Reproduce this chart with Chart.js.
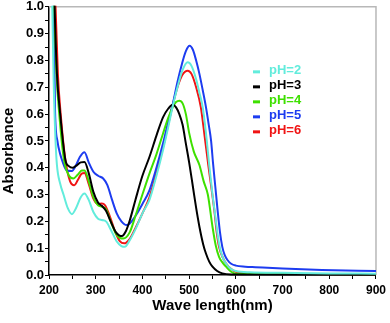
<!DOCTYPE html>
<html>
<head>
<meta charset="utf-8">
<script src="https://cdn.jsdelivr.net/npm/chart.js@4.4.1/dist/chart.umd.min.js"></script>
<style>
  html, body { margin: 0; padding: 0; background: #fff; }
  #wrap { width: 390px; height: 323px; position: relative; }
</style>
</head>
<body>
<div id="wrap"><canvas id="chart"></canvas></div>
<script>
// dados (comprimento de onda em nm, absorbancia)
const seriesLabels = ['pH=2', 'pH=3', 'pH=4', 'pH=5', 'pH=6'];
const seriesColors = ['#62ecdc', '#000000', '#3ee000', '#1d3cf0', '#f01414'];

const ph2Nm  = [203, 207, 210, 214, 217, 224, 231, 240, 249, 258, 268, 276, 285, 295, 305, 313, 322, 332, 345, 355, 362, 373, 385, 400, 415, 430, 444, 455, 465, 475, 485, 497, 505, 515, 522, 529, 536, 543, 550, 556, 561, 566, 572, 580, 590, 600, 630, 700, 800, 900];
const ph2Abs = [1.5, 1.0, 0.72, 0.5, 0.41, 0.34, 0.3, 0.25, 0.227, 0.25, 0.29, 0.304, 0.28, 0.235, 0.21, 0.205, 0.2, 0.17, 0.125, 0.108, 0.105, 0.13, 0.17, 0.23, 0.28, 0.37, 0.465, 0.55, 0.63, 0.7, 0.76, 0.793, 0.78, 0.73, 0.68, 0.626, 0.53, 0.41, 0.3, 0.22, 0.15, 0.1, 0.065, 0.04, 0.022, 0.015, 0.01, 0.008, 0.006, 0.005];

const ph3Nm  = [205, 212, 217, 224, 235, 243, 251, 260, 268, 276, 285, 295, 305, 313, 322, 332, 343, 350, 356, 365, 373, 385, 400, 415, 430, 444, 455, 465, 472, 479, 486, 493, 500, 508, 515, 522, 530, 536, 543, 550, 560, 571, 590, 900];
const ph3Abs = [1.5, 1.0, 0.75, 0.6, 0.43, 0.405, 0.4, 0.41, 0.42, 0.421, 0.38, 0.31, 0.27, 0.258, 0.24, 0.2, 0.16, 0.148, 0.145, 0.165, 0.204, 0.28, 0.37, 0.44, 0.52, 0.588, 0.62, 0.635, 0.625, 0.6, 0.56, 0.49, 0.42, 0.33, 0.25, 0.18, 0.115, 0.08, 0.05, 0.031, 0.015, 0.006, 0.002, 0.001];

const ph4Nm  = [204, 211, 216, 222, 232, 243, 252, 262, 270, 276, 285, 295, 305, 313, 322, 332, 343, 352, 359, 373, 385, 400, 415, 430, 444, 455, 465, 472, 479, 486, 493, 500, 510, 522, 531, 540, 550, 557, 564, 572, 579, 590, 600, 900];
const ph4Abs = [1.5, 1.0, 0.75, 0.6, 0.43, 0.37, 0.36, 0.375, 0.39, 0.39, 0.35, 0.29, 0.26, 0.255, 0.245, 0.2, 0.155, 0.138, 0.136, 0.16, 0.22, 0.3, 0.378, 0.45, 0.527, 0.585, 0.626, 0.645, 0.65, 0.64, 0.6, 0.53, 0.46, 0.41, 0.35, 0.3, 0.18, 0.11, 0.068, 0.045, 0.031, 0.012, 0.005, 0.003];

const ph5Nm  = [203, 210, 213, 218, 224, 228, 238, 249, 258, 266, 276, 285, 295, 305, 316, 325, 335, 345, 355, 366, 373, 385, 400, 415, 430, 444, 455, 465, 475, 485, 493, 501, 508, 515, 522, 529, 536, 542, 547, 551, 556, 561, 566, 571, 576, 582, 590, 600, 620, 642, 700, 784, 900];
const ph5Abs = [1.5, 1.0, 0.61, 0.5, 0.45, 0.428, 0.39, 0.388, 0.41, 0.44, 0.458, 0.42, 0.385, 0.37, 0.36, 0.335, 0.28, 0.23, 0.2, 0.186, 0.192, 0.22, 0.265, 0.316, 0.4, 0.49, 0.57, 0.638, 0.72, 0.79, 0.835, 0.855, 0.84, 0.8, 0.75, 0.69, 0.626, 0.56, 0.5, 0.42, 0.33, 0.24, 0.16, 0.105, 0.075, 0.056, 0.042, 0.035, 0.031, 0.029, 0.024, 0.019, 0.015];

const ph6Nm  = [206, 214, 219, 225, 235, 245, 254, 262, 270, 276, 285, 295, 305, 313, 320, 330, 342, 352, 361, 373, 385, 400, 415, 430, 444, 455, 465, 475, 485, 497, 505, 515, 525, 533, 541, 548, 554, 559, 564, 572, 579, 590, 600, 630, 900];
const ph6Abs = [1.5, 1.0, 0.75, 0.6, 0.43, 0.35, 0.335, 0.355, 0.378, 0.38, 0.34, 0.285, 0.265, 0.267, 0.26, 0.22, 0.16, 0.125, 0.118, 0.135, 0.175, 0.23, 0.29, 0.38, 0.475, 0.56, 0.635, 0.7, 0.745, 0.762, 0.75, 0.7, 0.626, 0.52, 0.41, 0.32, 0.24, 0.16, 0.105, 0.065, 0.043, 0.022, 0.012, 0.005, 0.003];

const xTicksMajor = [200, 300, 400, 500, 600, 700, 800, 900];
const yTicksMajor = [0.0, 0.1, 0.2, 0.3, 0.4, 0.5, 0.6, 0.7, 0.8, 0.9, 1.0];

const allNm = [ph2Nm, ph3Nm, ph4Nm, ph5Nm, ph6Nm];
const allAbs = [ph2Abs, ph3Abs, ph4Abs, ph5Abs, ph6Abs];

const FONT = "'Liberation Sans', Arial, sans-serif";

// junta x e y em pontos
function toPoints(xs, ys) {
  return xs.map((x, i) => ({ x: x, y: ys[i] }));
}

const datasets = seriesLabels.map((label, i) => ({
  label: label,
  data: toPoints(allNm[i], allAbs[i]),
  borderColor: seriesColors[i],
  backgroundColor: seriesColors[i],
  borderWidth: 2,
  pointRadius: 0,
  fill: false,
  cubicInterpolationMode: 'monotone',
  clip: 1
}));

// moldura cinza, titulos dos eixos e legenda dentro do grafico
const extrasPlugin = {
  id: 'extras',
  beforeDatasetsDraw(chart) {
    const { ctx, chartArea } = chart;
    ctx.save();
    ctx.strokeStyle = '#b8b8b8';
    ctx.lineWidth = 1.5;
    ctx.beginPath();
    ctx.moveTo(chartArea.left, chartArea.top);
    ctx.lineTo(chartArea.right, chartArea.top);
    ctx.lineTo(chartArea.right, chartArea.bottom);
    ctx.stroke();
    ctx.restore();
  },
  afterDraw(chart) {
    const { ctx, chartArea } = chart;
    ctx.save();
    ctx.fillStyle = '#000';
    ctx.font = 'bold 15px ' + FONT;
    ctx.textAlign = 'center';
    ctx.textBaseline = 'middle';
    ctx.fillText('Wave length(nm)', (chartArea.left + chartArea.right) / 2, chartArea.bottom + 31);

    ctx.translate(9, (chartArea.top + chartArea.bottom) / 2 + 10);
    ctx.rotate(-Math.PI / 2);
    ctx.fillText('Absorbance', 0, 0);
    ctx.restore();

    // legenda
    ctx.save();
    ctx.font = 'bold 13px ' + FONT;
    ctx.textAlign = 'left';
    ctx.textBaseline = 'middle';
    chart.data.datasets.forEach((ds, i) => {
      const y = chartArea.top + 64 + i * 15;
      const x = chartArea.left + 204;
      ctx.strokeStyle = ds.borderColor;
      ctx.lineWidth = 3;
      ctx.beginPath();
      ctx.moveTo(x, y + 1);
      ctx.lineTo(x + 7, y + 1);
      ctx.stroke();
      ctx.fillStyle = ds.borderColor;
      ctx.fillText(ds.label, x + 16, y);
    });
    ctx.restore();
  }
};

new Chart(document.getElementById('chart'), {
  type: 'line',
  data: { datasets: datasets },
  options: {
    responsive: true,
    maintainAspectRatio: false,
    animation: false,
    layout: { padding: { top: 6, right: 11, left: 0, bottom: 0 } },
    plugins: {
      legend: { display: false },
      tooltip: { enabled: false }
    },
    scales: {
      x: {
        type: 'linear',
        min: 200,
        max: 900,
        afterFit(scale) { scale.height = 48; },
        border: { display: true, color: '#000', width: 1.5 },
        grid: { drawOnChartArea: false, drawTicks: true, tickLength: 4, color: '#000' },
        ticks: {
          stepSize: 50,
          autoSkip: false,
          maxRotation: 0,
          padding: 4,
          color: '#000',
          font: { family: FONT, size: 12, weight: 'bold' },
          callback: v => xTicksMajor.includes(v) ? String(v) : ''
        }
      },
      y: {
        min: 0,
        max: 1,
        afterFit(scale) { scale.width = 49; },
        border: { display: true, color: '#000', width: 1.5 },
        grid: { drawOnChartArea: false, drawTicks: true, tickLength: 4, color: '#000' },
        ticks: {
          stepSize: 0.05,
          autoSkip: false,
          padding: 1,
          color: '#000',
          font: { family: FONT, size: 13, weight: 'bold', lineHeight: 0.9 },
          callback: v => {
            const r = Math.round(v * 100) / 100;
            return yTicksMajor.some(t => Math.abs(t - r) < 1e-6) ? r.toFixed(1) : '';
          }
        }
      }
    }
  },
  plugins: [extrasPlugin]
});
</script>
</body>
</html>
